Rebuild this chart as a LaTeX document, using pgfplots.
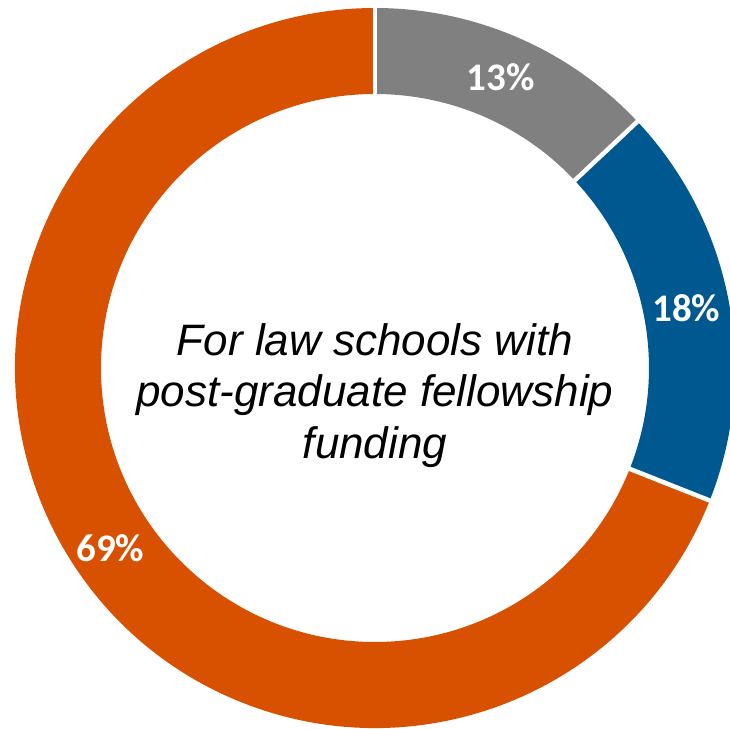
\documentclass[border=0pt]{standalone}
\usepackage{pgfplots}
\pgfplotsset{compat=1.18}
\usepackage{fontspec}
\setmainfont{Liberation Sans}
\newfontfamily\carlito{Carlito}
\definecolor{grayc}{RGB}{128,128,128}
\definecolor{bluec}{RGB}{0,88,145}
\definecolor{orangec}{RGB}{215,81,0}
% percentages (start at 12 o'clock, clockwise): 13, 18, 69
\def\Ro{360}
\def\Ri{274}
\def\Rm{317}
\begin{document}
\begin{tikzpicture}
\begin{axis}[
  scale only axis, width=730pt, height=728pt,
  xmin=-375, xmax=355, ymin=-360, ymax=368,
  hide axis, clip=true, disabledatascaling,
]
% gray 13%
\fill[grayc] (axis cs:{\Ro*cos(90)},{\Ro*sin(90)}) arc[start angle=90, end angle={90-13*3.6}, radius=\Ro pt]
  -- (axis cs:{\Ri*cos(90-13*3.6)},{\Ri*sin(90-13*3.6)}) arc[start angle={90-13*3.6}, end angle=90, radius=\Ri pt] -- cycle;
% blue 18%
\fill[bluec] (axis cs:{\Ro*cos(90-13*3.6)},{\Ro*sin(90-13*3.6)}) arc[start angle={90-13*3.6}, end angle={90-31*3.6}, radius=\Ro pt]
  -- (axis cs:{\Ri*cos(90-31*3.6)},{\Ri*sin(90-31*3.6)}) arc[start angle={90-31*3.6}, end angle={90-13*3.6}, radius=\Ri pt] -- cycle;
% orange 69%
\fill[orangec] (axis cs:{\Ro*cos(90-31*3.6)},{\Ro*sin(90-31*3.6)}) arc[start angle={90-31*3.6}, end angle={90-100*3.6}, radius=\Ro pt]
  -- (axis cs:{\Ri*cos(90-100*3.6)},{\Ri*sin(90-100*3.6)}) arc[start angle={90-100*3.6}, end angle={90-31*3.6}, radius=\Ri pt] -- cycle;
% separators
\draw[white, line width=4.5pt] (axis cs:{(\Ri-3)*cos(90)},{(\Ri-3)*sin(90)}) -- (axis cs:{(\Ro+3)*cos(90)},{(\Ro+3)*sin(90)});
\draw[white, line width=4.5pt] (axis cs:{(\Ri-3)*cos(90-13*3.6)},{(\Ri-3)*sin(90-13*3.6)}) -- (axis cs:{(\Ro+3)*cos(90-13*3.6)},{(\Ro+3)*sin(90-13*3.6)});
\draw[white, line width=4.5pt] (axis cs:{(\Ri-3)*cos(90-31*3.6)},{(\Ri-3)*sin(90-31*3.6)}) -- (axis cs:{(\Ro+3)*cos(90-31*3.6)},{(\Ro+3)*sin(90-31*3.6)});
% labels
\node[text=white, font=\carlito\bfseries\fontsize{39}{44}\selectfont] at (axis cs:{\Rm*cos(90-6.5*3.6)},{\Rm*sin(90-6.5*3.6)}) {13\%};
\node[text=white, font=\carlito\bfseries\fontsize{39}{44}\selectfont] at (axis cs:{\Rm*cos(90-22*3.6)},{\Rm*sin(90-22*3.6)}) {18\%};
\node[text=white, font=\carlito\bfseries\fontsize{39}{44}\selectfont] at (axis cs:{(\Rm+3)*cos(90-65.5*3.6)},{(\Rm+3)*sin(90-65.5*3.6)}) {69\%};
% centre text
\node[anchor=base, font=\itshape\fontsize{44}{52}\selectfont] at (axis cs:0,13) {For law schools with};
\node[anchor=base, font=\itshape\fontsize{44}{52}\selectfont] at (axis cs:0,-38) {post-graduate fellowship};
\node[anchor=base, font=\itshape\fontsize{44}{52}\selectfont] at (axis cs:0,-90) {funding};
\end{axis}
\pgfresetboundingbox
\useasboundingbox (current axis.south west) rectangle (current axis.north east);
\end{tikzpicture}
\end{document}
